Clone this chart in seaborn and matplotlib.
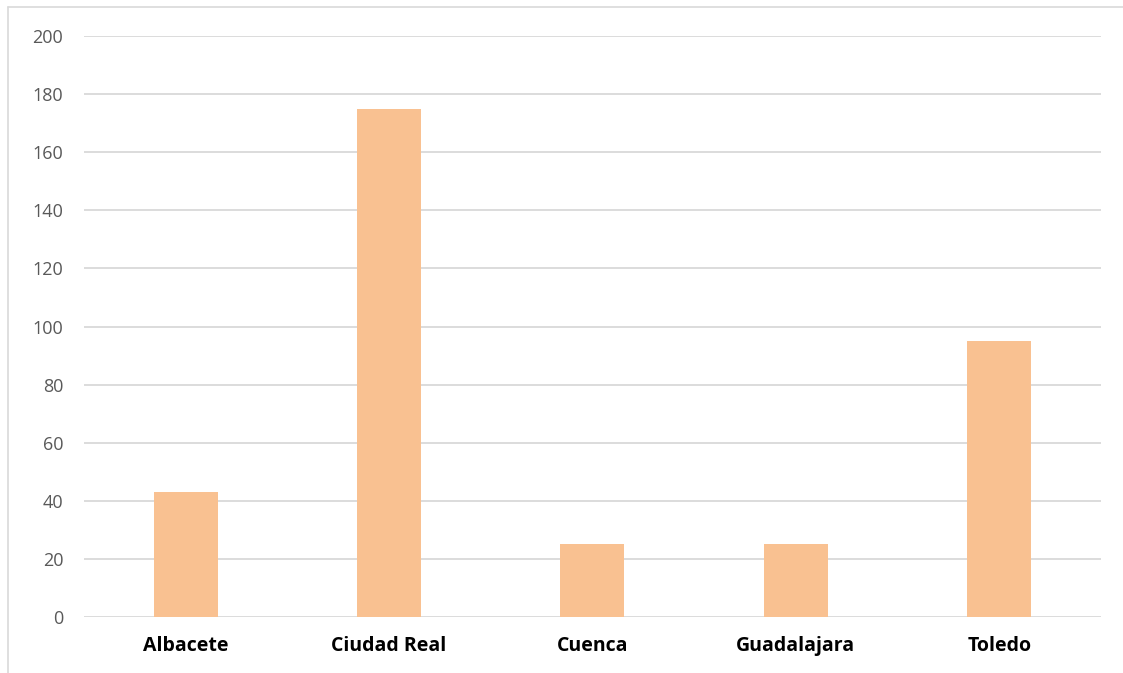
import pandas as pd
import seaborn as sns
import matplotlib.pyplot as plt
from matplotlib.lines import Line2D

provincias = ['Albacete', 'Ciudad Real', 'Cuenca', 'Guadalajara', 'Toledo']
valores = [43, 175, 25, 25, 95]
yticks = list(range(0, 201, 20))

data = pd.DataFrame({'provincia': provincias, 'valor': valores})

sns.set_style('white')
plt.rcParams['font.family'] = ['Open Sans', 'DejaVu Sans']

fig = plt.figure(figsize=(11.23, 6.73), dpi=100)
ax = fig.add_axes([0.0748, 0.0832, 0.9055, 0.8633])

sns.barplot(data=data, x='provincia', y='valor', color='#F9C191',
            saturation=1, width=0.315, linewidth=0, ax=ax)

ax.set_ylim(0, 200)
ax.set_xlim(-0.5, 4.5)
ax.set_yticks(yticks)
ax.set_axisbelow(True)
ax.yaxis.grid(True, color='#D9D9D9', linewidth=1.3)
for s in ax.spines.values():
    s.set_visible(False)
ax.tick_params(axis='y', length=0, pad=15, labelsize=13, labelcolor='#595959')
ax.tick_params(axis='x', length=0, pad=14, labelsize=14)
for lbl in ax.get_xticklabels():
    lbl.set_fontweight('bold')
    lbl.set_color('black')
ax.set_xlabel('')
ax.set_ylabel('')

# chart frame: only the top and left edges fall inside the picture
x0 = 8 / 1123
y0 = 1 - 7 / 673
fig.add_artist(Line2D([x0, 1.0], [y0, y0], transform=fig.transFigure,
                      color='#D9D9D9', linewidth=1.2))
fig.add_artist(Line2D([x0, x0], [0.0, y0], transform=fig.transFigure,
                      color='#D9D9D9', linewidth=1.2))

fig.savefig('out.png', dpi=100)
